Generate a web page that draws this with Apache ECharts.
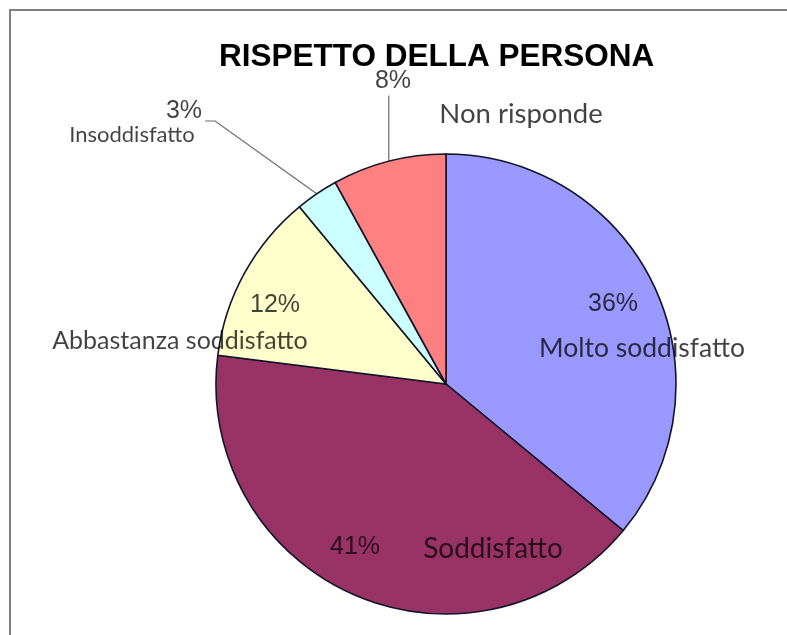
<!DOCTYPE html>
<html>
<head>
<meta charset="utf-8">
<title>Rispetto della persona</title>
<script src="https://cdn.jsdelivr.net/npm/echarts@6/dist/echarts.min.js"></script>
<style>
  html, body { margin: 0; padding: 0; background: #ffffff; }
  #chart { width: 787px; height: 635px; }
</style>
</head>
<body>
<div id="chart"></div>
<script>
// Survey answers, clockwise from the top of the pie
const categories = ['Molto soddisfatto', 'Soddisfatto', 'Abbastanza soddisfatto', 'Insoddisfatto', 'Non risponde'];
const percentages = [36, 41, 12, 3, 8];
const sliceColors = ['#9999FF', '#993366', '#FFFFCC', '#CCFFFF', '#FF8080'];
const chartTitle = 'RISPETTO DELLA PERSONA';

// Where each text sits (centre of the text box)
const percentLabelPos = [[613, 304], [355, 547], [275, 305], [184, 111], [393, 81]];
const nameLabelPos = [[642, 348], [493, 549], [180, 341], [132, 135], [521, 114]];
const nameFontSize = [26.5, 28, 25, 22, 27.5];
const withLeader = [false, false, false, true, true];

const textColor = 'rgba(0,0,0,0.74)';
const pieCenter = [446, 384];
const pieRadius = 230;

const sliceData = categories.map((name, i) => ({
  name: name,
  value: percentages[i],
  itemStyle: { color: sliceColors[i] },
  labelLine: { show: withLeader[i] }
}));

const nameData = categories.map((name, i) => ({
  name: name,
  value: percentages[i],
  label: { fontSize: nameFontSize[i] }
}));

const chart = echarts.init(document.getElementById('chart'), null, { renderer: 'canvas' });

chart.setOption({
  backgroundColor: '#ffffff',
  animation: false,
  title: {
    text: chartTitle,
    left: 214,
    top: 36,
    textStyle: {
      fontFamily: '"Liberation Sans", Arial, sans-serif',
      fontWeight: 'bold',
      fontSize: 31.5,
      color: '#000000'
    }
  },
  graphic: [{
    type: 'rect',
    silent: true,
    shape: { x: 10, y: 10, width: 820, height: 660 },
    style: { fill: null, stroke: '#808080', lineWidth: 2 }
  }],
  series: [
    {
      // slices with the percentage labels
      type: 'pie',
      center: pieCenter,
      radius: pieRadius,
      startAngle: 90,
      clockwise: true,
      avoidLabelOverlap: false,
      itemStyle: { borderColor: '#14142a', borderWidth: 1.6 },
      label: {
        show: true,
        position: 'outside',
        formatter: '{c}%',
        fontFamily: '"Liberation Sans", Arial, sans-serif',
        fontSize: 25,
        color: textColor
      },
      labelLine: {
        show: true,
        lineStyle: { color: '#6a6a6a', width: 1.2 }
      },
      labelLayout: function (p) {
        const i = p.dataIndex;
        const pos = percentLabelPos[i];
        const out = { x: pos[0], y: pos[1], align: 'center', verticalAlign: 'middle' };
        if (withLeader[i] && p.labelLinePoints) {
          const edge = p.labelLinePoints[0];
          const lr = p.labelRect;
          if (i === 3) {
            const yy = pos[1] + 10;
            const right = pos[0] + lr.width / 2;
            out.labelLinePoints = [edge, [right + 13, yy], [right + 3, yy]];
          } else {
            const top = pos[1] + lr.height / 2 + 2;
            out.labelLinePoints = [edge, [edge[0], (edge[1] + top) / 2], [edge[0], top]];
          }
        }
        return out;
      },
      data: sliceData
    },
    {
      // category names, drawn over the same geometry
      type: 'pie',
      center: pieCenter,
      radius: pieRadius,
      startAngle: 90,
      clockwise: true,
      silent: true,
      avoidLabelOverlap: false,
      itemStyle: { color: 'rgba(0,0,0,0)', borderWidth: 0 },
      emphasis: { disabled: true },
      label: {
        show: true,
        position: 'outside',
        formatter: '{b}',
        fontFamily: 'Lato, "Open Sans", sans-serif',
        color: textColor
      },
      labelLine: { show: false },
      labelLayout: function (p) {
        const pos = nameLabelPos[p.dataIndex];
        return { x: pos[0], y: pos[1], align: 'center', verticalAlign: 'middle' };
      },
      data: nameData
    }
  ]
});
</script>
</body>
</html>
